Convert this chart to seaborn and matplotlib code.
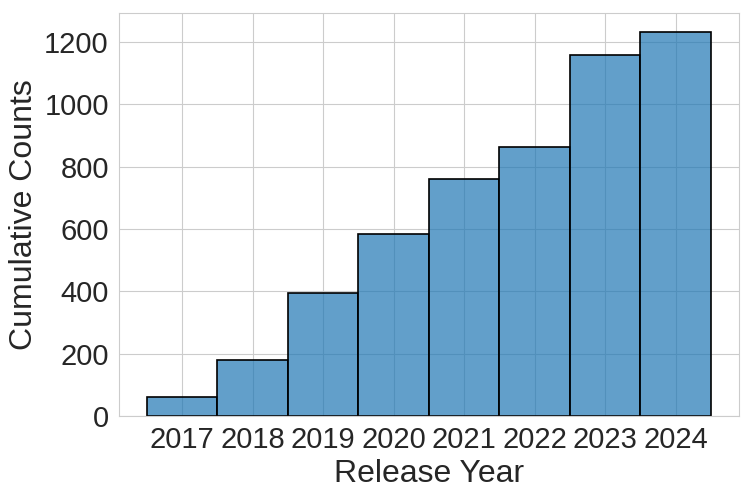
import pandas as pd
import matplotlib
matplotlib.use('Agg')
import matplotlib.pyplot as plt
from matplotlib.ticker import MultipleLocator
import seaborn as sns

# Releases per year
years = [2017, 2018, 2019, 2020, 2021, 2022, 2023, 2024]
counts = [61, 120, 214, 190, 177, 100, 298, 72]

data = pd.DataFrame({'year': years, 'count': counts})

sns.set_style("whitegrid")
plt.rcParams['font.family'] = ['Liberation Sans', 'DejaVu Sans']

fig, ax = plt.subplots(figsize=(7.55, 4.99), dpi=100)
sns.histplot(data=data, x='year', weights='count', discrete=True, cumulative=True,
             color='#1f77b4', edgecolor='black', linewidth=1.2, alpha=0.7, ax=ax)

ax.set_xticks(years)
ax.yaxis.set_major_locator(MultipleLocator(200))
ax.set_xlabel('Release Year', fontsize=23)
ax.set_ylabel('Cumulative Counts', fontsize=23)
ax.tick_params(axis='both', labelsize=21, colors='#262626')

plt.subplots_adjust(left=0.157, right=0.979, top=0.974, bottom=0.166)
plt.savefig('out.png')
